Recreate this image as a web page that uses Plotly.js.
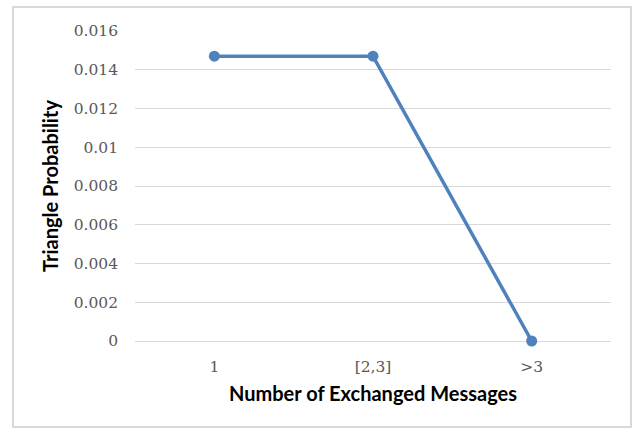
<!DOCTYPE html>
<html>
<head>
<meta charset="utf-8">
<script src="https://cdn.plot.ly/plotly-3.0.1.min.js"></script>
<style>
html,body{margin:0;padding:0;background:#fff;}
#wrap{position:relative;width:636px;height:432px;}
#chart{position:absolute;left:0;top:0;width:636px;height:432px;}
#frame{position:absolute;left:12px;top:6px;width:616px;height:418px;border:2px solid #d9d9d9;pointer-events:none;}
</style>
</head>
<body>
<div id="wrap"><div id="chart"></div><div id="frame"></div></div>
<script>
const categories = ["1", "[2,3]", ">3"];
const probability = [0.0147, 0.0147, 0];
const yTicks = [0, 0.002, 0.004, 0.006, 0.008, 0.01, 0.012, 0.014, 0.016];
const yTickLabels = ["0", "0.002", "0.004", "0.006", "0.008", "0.01", "0.012", "0.014", "0.016"];

const tickFont = {family: "'DejaVu Serif', 'Liberation Serif', serif", size: 15.5, color: "#595959"};
const titleFont = {family: "Lato, 'Liberation Sans', sans-serif", size: 20, color: "#000", weight: "bold"};

const trace = {
  x: categories,
  y: probability,
  type: "scatter",
  mode: "lines+markers",
  line: {color: "#4F81BD", width: 3.5},
  marker: {color: "#4F81BD", size: 11},
  cliponaxis: false,
  hoverinfo: "skip"
};

const layout = {
  width: 636, height: 432,
  margin: {l: 135, r: 25, t: 31, b: 91},
  paper_bgcolor: "rgba(0,0,0,0)",
  plot_bgcolor: "#fff",
  showlegend: false,
  font: tickFont,
  xaxis: {
    type: "category",
    range: [-0.5, 2.5],
    showgrid: false,
    zeroline: false,
    showline: false,
    ticks: "",
    ticklabelstandoff: 14,
    tickfont: tickFont,
    title: {text: "Number of Exchanged Messages", font: titleFont, standoff: 12}
  },
  yaxis: {
    range: [0, 0.016],
    tickvals: yTicks,
    ticktext: yTickLabels,
    showgrid: true,
    gridcolor: "#d9d9d9",
    gridwidth: 1,
    zeroline: true,
    zerolinecolor: "#d9d9d9",
    zerolinewidth: 1,
    showline: false,
    ticks: "",
    ticklabelstandoff: 16,
    tickfont: tickFont,
    title: {text: "Triangle Probability", font: titleFont, standoff: 9}
  }
};

Plotly.newPlot("chart", [trace], layout, {staticPlot: true, displayModeBar: false});
</script>
</body>
</html>
